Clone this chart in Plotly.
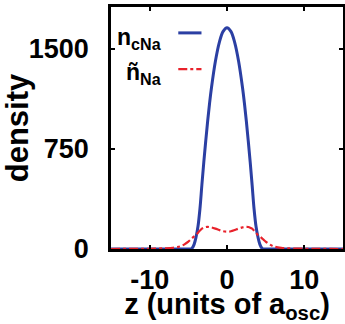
import plotly.graph_objects as go

# z positions (units of a_osc)
z_vals = [-15, -12, -10, -8, -7, -6, -5.5, -5, -4.75, -4.5, -4.25, -4, -3.75, -3.5, -3.25, -3, -2.75,
          -2.5, -2.25, -2, -1.5, -1, -0.5, 0, 0.5, 1, 1.5, 2, 2.25, 2.5, 2.75, 3, 3.25, 3.5,
          3.75, 4, 4.25, 4.5, 4.75, 5, 5.5, 6, 7, 8, 10, 12, 15]

# condensate density n_cNa
n_cNa = [0, 0, 0, 0, 0, 0, 0, 0, 0, 8, 35, 90, 170, 300, 480, 652, 810,
         960, 1095, 1213, 1408, 1548, 1632, 1660, 1632, 1548, 1408, 1213, 1095, 960, 810, 652, 480, 300,
         170, 90, 35, 8, 0, 0, 0, 0, 0, 0, 0, 0, 0]

# ñ_Na density
nt_Na = [0, 1, 2, 5, 9, 20, 35, 55, 68, 82, 94, 105, 122, 138, 152, 160, 165,
         166, 164, 162, 153, 142, 133, 130, 133, 142, 153, 162, 164, 166, 165, 160, 152, 138,
         122, 105, 94, 82, 68, 55, 35, 20, 9, 5, 2, 1, 0]

x_ticks = [-10, 0, 10]
y_ticks = [0, 750, 1500]

BLUE = "#2b3fa3"
RED = "#e8222b"
FONT = "Liberation Sans, Arial, sans-serif"

fig = go.Figure()
fig.add_trace(go.Scatter(x=z_vals, y=n_cNa, mode="lines", line=dict(color=BLUE, width=3, shape="spline"),
                         showlegend=False))
fig.add_trace(go.Scatter(x=z_vals, y=nt_Na, mode="lines",
                         line=dict(color=RED, width=2.2, dash="dashdot", shape="spline"),
                         showlegend=False))

axis_common = dict(showline=True, linecolor="black", linewidth=2.5, mirror="ticks",
                   ticks="inside", ticklen=4, tickwidth=2, tickcolor="black",
                   showgrid=False, zeroline=False, automargin=False,
                   tickfont=dict(family=FONT, size=27, color="black", weight="bold"))

fig.update_xaxes(range=[-15, 15], tickvals=x_ticks, ticktext=[str(v) for v in x_ticks],
                 ticklabelstandoff=5,
                 title=dict(text="z (units of a<sub>osc</sub>)", standoff=3,
                            font=dict(family=FONT, size=29, color="black", weight="bold")),
                 **axis_common)
fig.update_yaxes(range=[0, 1815], tickvals=y_ticks, ticktext=[str(v) for v in y_ticks],
                 ticklabelstandoff=14,
                 title=dict(text="density", standoff=4,
                            font=dict(family=FONT, size=31, color="black", weight="bold")),
                 **axis_common)

# gnuplot-style key: text right-aligned, sample line to its right
legend_font = dict(family=FONT, size=23, color="black", weight="bold")
fig.add_annotation(xref="paper", yref="paper", x=0.23, y=0.87, xanchor="right", yanchor="middle",
                   text="n<sub>cNa</sub>", showarrow=False, font=legend_font)
fig.add_annotation(xref="paper", yref="paper", x=0.23, y=0.725, xanchor="right", yanchor="middle",
                   text="ñ<sub>Na</sub>", showarrow=False, font=legend_font)
fig.add_shape(type="line", xref="paper", yref="paper", x0=0.29, x1=0.39, y0=0.893, y1=0.893,
              line=dict(color=BLUE, width=3))
fig.add_shape(type="line", xref="paper", yref="paper", x0=0.29, x1=0.39, y0=0.743, y1=0.743,
              line=dict(color=RED, width=2.2, dash="dashdot"))

fig.update_layout(width=345, height=324, margin=dict(l=111, r=2, t=7, b=75),
                  plot_bgcolor="white", paper_bgcolor="white", showlegend=False)

fig.write_html("out.html", config={"displayModeBar": False},
               post_script="document.body.style.margin='0';document.body.style.overflow='hidden';")
